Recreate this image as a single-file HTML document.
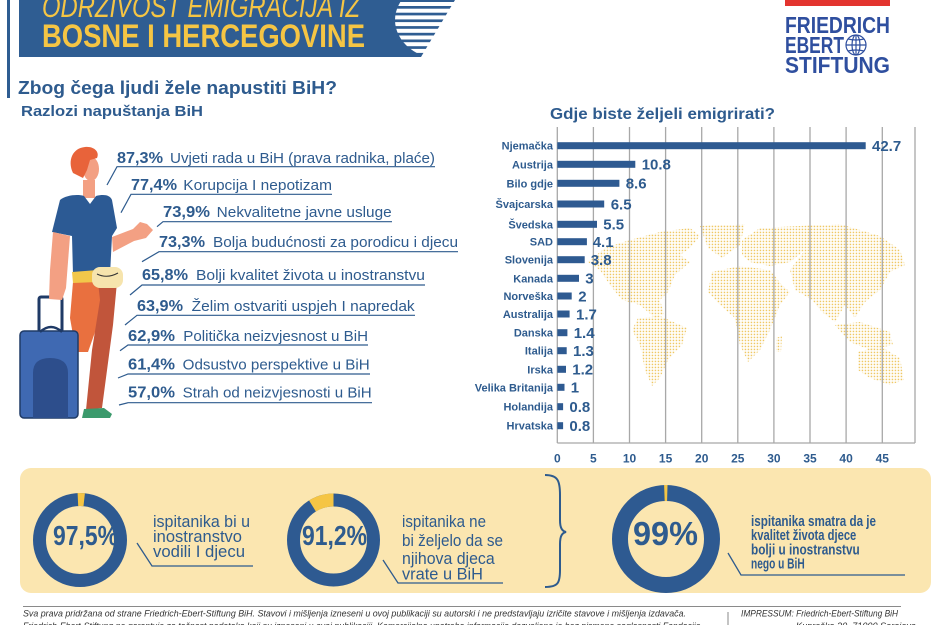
<!DOCTYPE html>
<html><head><meta charset="utf-8">
<style>html,body{margin:0;padding:0;background:#fff;}svg{display:block}</style>
</head><body>
<svg width="938" height="625" viewBox="0 0 938 625" xmlns="http://www.w3.org/2000/svg" font-family="'Liberation Sans', sans-serif">
<defs>
<pattern id="dots" width="3" height="3" patternUnits="userSpaceOnUse"><rect x="0.7" y="0.7" width="1.5" height="1.5" fill="#efc864"/></pattern>
<clipPath id="hc"><ellipse cx="445" cy="20" rx="50" ry="40"/></clipPath>
</defs>
<rect width="938" height="625" fill="#fff"/>

<!-- Header -->
<rect x="7" y="0" width="3" height="98" fill="#2f5d92"/>
<polygon points="19,0 455,0 421,57 19,57" fill="#2f5d92"/>
<g clip-path="url(#hc)" fill="#fff">
<rect x="380" y="2" width="90" height="4"/>
<rect x="380" y="8.7" width="90" height="4"/>
<rect x="380" y="15.4" width="90" height="4"/>
<rect x="380" y="22.1" width="90" height="4"/>
<rect x="380" y="28.8" width="90" height="4"/>
<rect x="380" y="35.5" width="90" height="4"/>
<rect x="380" y="42.2" width="90" height="4"/>
<rect x="380" y="48.9" width="90" height="4"/>
</g>
<text x="42" y="17" font-size="31" font-style="italic" fill="#f5c544" textLength="318" lengthAdjust="spacingAndGlyphs">ODRŽIVOST EMIGRACIJA IZ</text>
<text x="42" y="47" font-size="32" font-weight="bold" fill="#f5c544" textLength="323" lengthAdjust="spacingAndGlyphs">BOSNE I HERCEGOVINE</text>

<!-- Logo -->
<rect x="785" y="0" width="105" height="6" fill="#e3342f"/>
<g fill="#2f4f9f" font-weight="bold" font-size="23">
<text x="785" y="33" textLength="105" lengthAdjust="spacingAndGlyphs">FRIEDRICH</text>
<text x="785" y="53" textLength="59" lengthAdjust="spacingAndGlyphs">EBERT</text>
<text x="785" y="73" textLength="105" lengthAdjust="spacingAndGlyphs">STIFTUNG</text>
</g>
<g stroke="#2f4f9f" stroke-width="1.2" fill="none">
<circle cx="856" cy="45" r="10" fill="#fff"/>
<ellipse cx="856" cy="45" rx="4" ry="10"/>
<line x1="846" y1="45" x2="866" y2="45"/>
<path d="M848,39 Q856,41 864,39 M848,51 Q856,49 864,51"/>
<line x1="856" y1="35" x2="856" y2="55"/>
</g>

<!-- Headings -->
<text x="18" y="94" font-size="18" font-weight="bold" fill="#2e5b8e" textLength="319" lengthAdjust="spacingAndGlyphs">Zbog čega ljudi žele napustiti BiH?</text>
<text x="21" y="116" font-size="15" font-weight="bold" fill="#2e5b8e" textLength="182" lengthAdjust="spacingAndGlyphs">Razlozi napuštanja BiH</text>
<text x="550" y="119" font-size="16" font-weight="bold" fill="#2e5b8e" textLength="225" lengthAdjust="spacingAndGlyphs">Gdje biste željeli emigrirati?</text>

<!-- Person -->
<path d="M73,282 L103,282 L100,318 L88,352 L76,352 L70,318 Z" fill="#e9703f"/>
<path d="M98,282 L117,282 L113,325 L102,408 L86,410 L92,350 L100,300 Z" fill="#c1553b"/>
<path d="M84,409 L104,408 L112,414 L110,418 L82,418 Z" fill="#3b9a6c"/>
<rect x="83" y="180" width="12" height="18" fill="#f3a083"/>
<ellipse cx="91" cy="169" rx="8" ry="12" fill="#f3a083"/>
<path d="M73,173 C67,160 73,148 85,147 C94,146 100,152 97,158 L90,160 L87,170 L83,178 Z" fill="#e8633a"/>
<path d="M60,200 C66,195 78,194 84,196 L90,204 L96,196 C104,194 110,195 112,200 L117,228 L112,236 L110,275 L73,275 L72,236 L52,232 Z" fill="#2c5a94"/>
<path d="M112,237 L133,229 L140,222 L147,224 L153,230 L146,238 L134,241 L113,252 Z" fill="#f3a083"/>
<path d="M72,272 L98,270 L98,282 L73,283 Z" fill="#f2c74a"/>
<rect x="92" y="267" width="31" height="21" rx="8" fill="#f6e4ad"/>
<path d="M97,274 Q107,279 118,273" stroke="#333" stroke-width="1" fill="none"/>
<rect x="39" y="297" width="23" height="35" rx="2" fill="none" stroke="#1f3a66" stroke-width="3"/>
<rect x="20" y="331" width="58" height="87" rx="4" fill="#3f69b2" stroke="#1f3a66" stroke-width="1.5"/>
<path d="M40,332 Q51,322 62,332" fill="none" stroke="#1f3a66" stroke-width="2.5"/>
<path d="M33,418 L33,373 Q33,358 50,358 Q68,358 68,373 L68,418 Z" fill="#2d4e8c"/>
<path d="M53,232 L70,236 L66,288 L62,300 L49,299 L50,270 Z" fill="#f3a083"/>

<!-- Reasons list -->
<g stroke="#2e5b8e" stroke-width="1.2" fill="none">
<polyline points="107,185 117,166.7 435,166.7"/>
<polyline points="121,212.7 131,194.3 332,194.3"/>
<polyline points="157,226.7 163,221.7 392,221.7"/>
<polyline points="142,261.7 159,251.7 458,251.7"/>
<polyline points="130,295 142,285 425,285"/>
<polyline points="125,325 137,315.3 415,315.3"/>
<polyline points="120,350.7 128,345 368,345"/>
<polyline points="118,378 128,374 370,374"/>
<polyline points="119,405 128,402.7 372,402.7"/>
</g>
<g fill="#2e5b8e">
<g font-weight="bold" font-size="16">
<text x="117" y="163" textLength="46" lengthAdjust="spacingAndGlyphs">87,3%</text>
<text x="131" y="190" textLength="46" lengthAdjust="spacingAndGlyphs">77,4%</text>
<text x="163" y="217" textLength="47" lengthAdjust="spacingAndGlyphs">73,9%</text>
<text x="159" y="247" textLength="46" lengthAdjust="spacingAndGlyphs">73,3%</text>
<text x="142" y="280" textLength="46" lengthAdjust="spacingAndGlyphs">65,8%</text>
<text x="137" y="311" textLength="46" lengthAdjust="spacingAndGlyphs">63,9%</text>
<text x="128" y="341" textLength="47" lengthAdjust="spacingAndGlyphs">62,9%</text>
<text x="128" y="369.5" textLength="47" lengthAdjust="spacingAndGlyphs">61,4%</text>
<text x="128" y="397.5" textLength="47" lengthAdjust="spacingAndGlyphs">57,0%</text>
</g>
<g font-size="15">
<text x="170" y="163" textLength="265" lengthAdjust="spacingAndGlyphs">Uvjeti rada u BiH (prava radnika, plaće)</text>
<text x="183.3" y="190" textLength="148.7" lengthAdjust="spacingAndGlyphs">Korupcija I nepotizam</text>
<text x="216.7" y="217" textLength="175" lengthAdjust="spacingAndGlyphs">Nekvalitetne javne usluge</text>
<text x="213" y="247" textLength="245" lengthAdjust="spacingAndGlyphs">Bolja budućnosti za porodicu i djecu</text>
<text x="196" y="280" textLength="229" lengthAdjust="spacingAndGlyphs">Bolji kvalitet života u inostranstvu</text>
<text x="191.7" y="311" textLength="223" lengthAdjust="spacingAndGlyphs">Želim ostvariti uspjeh I napredak</text>
<text x="183.3" y="341" textLength="184.7" lengthAdjust="spacingAndGlyphs">Politička neizvjesnost u BiH</text>
<text x="182.7" y="369.5" textLength="187" lengthAdjust="spacingAndGlyphs">Odsustvo perspektive u BiH</text>
<text x="182.7" y="397.5" textLength="189" lengthAdjust="spacingAndGlyphs">Strah od neizvjesnosti u BiH</text>
</g>
</g>

<!-- World map -->
<g fill="url(#dots)">
<path d="M588,262 L605,248 L630,240 L660,232 L690,228 L700,236 L690,248 L680,255 L690,262 L675,275 L668,292 L660,300 L664,314 L655,318 L640,305 L622,300 L610,285 L600,270 Z"/>
<path d="M700,226 L745,224 L740,245 L722,258 L708,248 Z"/>
<path d="M638,318 L660,316 L687,328 L682,345 L668,360 L660,378 L652,386 L645,370 L640,345 L632,330 Z"/>
<path d="M742,240 L760,228 L800,226 L805,250 L790,262 L770,266 L750,262 L742,255 Z"/>
<path d="M712,272 L740,266 L770,270 L782,285 L790,292 L780,305 L770,330 L760,350 L748,362 L740,345 L735,318 L720,305 L708,292 Z"/>
<path d="M776,338 L782,336 L781,352 L776,352 Z"/>
<path d="M800,226 L840,224 L880,236 L900,250 L905,265 L890,272 L880,290 L865,302 L855,318 L845,305 L835,322 L822,312 L812,300 L795,290 L790,270 L805,250 Z"/>
<path d="M835,325 L860,322 L890,332 L893,345 L870,350 L850,342 Z"/>
<path d="M858,352 L880,346 L900,358 L904,380 L890,385 L870,378 L858,370 Z"/>
</g>

<!-- Gridlines -->
<g stroke="#a8a8a8" stroke-width="1.3">
<line x1="557.3" y1="127" x2="557.3" y2="443"/>
<line x1="593.4" y1="127" x2="593.4" y2="443"/>
<line x1="629.5" y1="127" x2="629.5" y2="443"/>
<line x1="665.6" y1="127" x2="665.6" y2="443"/>
<line x1="701.7" y1="127" x2="701.7" y2="443"/>
<line x1="737.8" y1="127" x2="737.8" y2="443"/>
<line x1="773.9" y1="127" x2="773.9" y2="443"/>
<line x1="810" y1="127" x2="810" y2="443"/>
<line x1="846.1" y1="127" x2="846.1" y2="443"/>
<line x1="882.3" y1="127" x2="882.3" y2="443"/>
<line x1="915" y1="127" x2="915" y2="443"/>
<line x1="557.3" y1="443" x2="915" y2="443"/>
</g>
<g fill="#2e5b8e" font-weight="bold" font-size="12" text-anchor="middle">
<text x="557.3" y="462.5">0</text>
<text x="593.4" y="462.5">5</text>
<text x="629.5" y="462.5">10</text>
<text x="665.6" y="462.5">15</text>
<text x="701.7" y="462.5">20</text>
<text x="737.8" y="462.5">25</text>
<text x="773.9" y="462.5">30</text>
<text x="810" y="462.5">35</text>
<text x="846.1" y="462.5">40</text>
<text x="882.3" y="462.5">45</text>
</g>

<!-- Bars -->
<g fill="#2e5a91">
<rect x="557.3" y="142.2" width="308.4" height="7"/>
<rect x="557.3" y="160.8" width="78" height="7"/>
<rect x="557.3" y="179.8" width="62.1" height="7"/>
<rect x="557.3" y="200.5" width="46.9" height="7"/>
<rect x="557.3" y="220.8" width="39.7" height="7"/>
<rect x="557.3" y="238.2" width="29.6" height="7"/>
<rect x="557.3" y="256.2" width="27.4" height="7"/>
<rect x="557.3" y="274.8" width="21.7" height="7"/>
<rect x="557.3" y="292.5" width="14.4" height="7"/>
<rect x="557.3" y="310.5" width="12.3" height="7"/>
<rect x="557.3" y="329.2" width="10.1" height="7"/>
<rect x="557.3" y="347.2" width="9.4" height="7"/>
<rect x="557.3" y="365.8" width="8.7" height="7"/>
<rect x="557.3" y="383.8" width="7.2" height="7"/>
<rect x="557.3" y="403.2" width="5.8" height="7"/>
<rect x="557.3" y="422.2" width="5.8" height="7"/>
</g>
<g fill="#2e5b8e" font-weight="bold" font-size="11" text-anchor="end">
<text x="553" y="149.7">Njemačka</text>
<text x="553" y="168.3">Austrija</text>
<text x="553" y="187.3">Bilo gdje</text>
<text x="553" y="208">Švajcarska</text>
<text x="553" y="228.3">Švedska</text>
<text x="553" y="245.7">SAD</text>
<text x="553" y="263.7">Slovenija</text>
<text x="553" y="282.3">Kanada</text>
<text x="553" y="300">Norveška</text>
<text x="553" y="318">Australija</text>
<text x="553" y="336.7">Danska</text>
<text x="553" y="354.7">Italija</text>
<text x="553" y="373.3">Irska</text>
<text x="553" y="391.3">Velika Britanija</text>
<text x="553" y="410.7">Holandija</text>
<text x="553" y="429.7">Hrvatska</text>
</g>
<g fill="#2e5b8e" font-weight="bold" font-size="15">
<text x="872" y="151">42.7</text>
<text x="641.7" y="169.6">10.8</text>
<text x="625.7" y="188.6">8.6</text>
<text x="610.7" y="209.3">6.5</text>
<text x="603.3" y="229.6">5.5</text>
<text x="592.7" y="247">4.1</text>
<text x="590.7" y="265">3.8</text>
<text x="585.3" y="283.6">3</text>
<text x="578.3" y="301.3">2</text>
<text x="576" y="319.3">1.7</text>
<text x="573.7" y="338">1.4</text>
<text x="573" y="356">1.3</text>
<text x="572.3" y="374.6">1.2</text>
<text x="570.8" y="392.6">1</text>
<text x="569.4" y="412">0.8</text>
<text x="569.4" y="431">0.8</text>
</g>

<!-- Bottom panel -->
<rect x="20" y="468" width="911" height="125" rx="11" fill="#fbe6b0"/>
<circle cx="80" cy="540" r="40.5" fill="none" stroke="#2e5a91" stroke-width="13"/>
<path d="M77.9,499.5 A40.5,40.5 0 0 1 84.2,499.7" fill="none" stroke="#f5c544" stroke-width="13"/>
<circle cx="333.5" cy="540" r="40" fill="none" stroke="#2e5a91" stroke-width="13"/>
<path d="M312.48,505.97 A40,40 0 0 1 333.5,500" fill="none" stroke="#f5c544" stroke-width="13"/>
<circle cx="666" cy="539" r="46" fill="none" stroke="#2e5a91" stroke-width="16"/>
<path d="M664.4,493.03 A46,46 0 0 1 667.3,493.02" fill="none" stroke="#f5c544" stroke-width="16"/>

<g fill="#2e5b8e" font-weight="bold">
<text x="53" y="545" font-size="28" textLength="65" lengthAdjust="spacingAndGlyphs">97,5%</text>
<text x="302" y="545" font-size="28" textLength="65" lengthAdjust="spacingAndGlyphs">91,2%</text>
<text x="633" y="545" font-size="33" textLength="65" lengthAdjust="spacingAndGlyphs">99%</text>
</g>
<g fill="#2e5b8e" font-size="17">
<text x="153" y="527" textLength="97" lengthAdjust="spacingAndGlyphs">ispitanika bi u</text>
<text x="153" y="542" textLength="89" lengthAdjust="spacingAndGlyphs">inostranstvo</text>
<text x="153" y="557" textLength="92" lengthAdjust="spacingAndGlyphs">vodili I djecu</text>
<text x="402" y="527" textLength="84" lengthAdjust="spacingAndGlyphs">ispitanika ne</text>
<text x="402" y="546" textLength="101" lengthAdjust="spacingAndGlyphs">bi željelo da se</text>
<text x="402" y="564" textLength="92.7" lengthAdjust="spacingAndGlyphs">njihova djeca</text>
<text x="402" y="579.5" textLength="81" lengthAdjust="spacingAndGlyphs">vrate u BiH</text>
</g>
<g fill="#2e5b8e" font-size="15" font-weight="bold">
<text x="751" y="526" textLength="125" lengthAdjust="spacingAndGlyphs">ispitanika smatra da je</text>
<text x="751" y="540" textLength="105.3" lengthAdjust="spacingAndGlyphs">kvalitet života djece</text>
<text x="751" y="554.3" textLength="108.7" lengthAdjust="spacingAndGlyphs">bolji u inostranstvu</text>
<text x="751" y="568.3" textLength="53.7" lengthAdjust="spacingAndGlyphs">nego u BiH</text>
</g>
<g stroke="#2e5b8e" stroke-width="1.3" fill="none">
<polyline points="137,543 152,566 253,566"/>
<polyline points="383,560 398,583 503,583"/>
<polyline points="728,553 741,575 905,575"/>
<path d="M545,475 C558,475 560,481 560,495 L560,520 C560,528 562,531 566,532 C562,533 560,536 560,544 L560,570 C560,583 558,587 545,587" stroke-width="2"/>
</g>

<!-- Footer -->
<line x1="23" y1="606.5" x2="901" y2="606.5" stroke="#8a8a8a" stroke-width="1"/>
<line x1="728" y1="612" x2="728" y2="625" stroke="#8a8a8a" stroke-width="1"/>
<g fill="#333" font-size="9.5" font-style="italic">
<text x="23" y="616.5" textLength="663" lengthAdjust="spacingAndGlyphs">Sva prava pridržana od strane Friedrich-Ebert-Stiftung BiH. Stavovi i mišljenja izneseni u ovoj publikaciji su autorski i ne predstavljaju izričite stavove i mišljenja izdavača.</text>
<text x="23" y="629" textLength="680" lengthAdjust="spacingAndGlyphs">Friedrich-Ebert-Stiftung ne garantuje za tačnost podataka koji su izneseni u ovoj publikaciji. Komercijalna upotreba informacija dozvoljena je bez pismene saglasnosti Fondacije.</text>
<text x="741" y="616.5" textLength="157" lengthAdjust="spacingAndGlyphs">IMPRESSUM: Friedrich-Ebert-Stiftung BiH</text>
<text x="796" y="629" textLength="120" lengthAdjust="spacingAndGlyphs">Kupreška 20, 71000 Sarajevo</text>
</g>
</svg>
</body></html>
